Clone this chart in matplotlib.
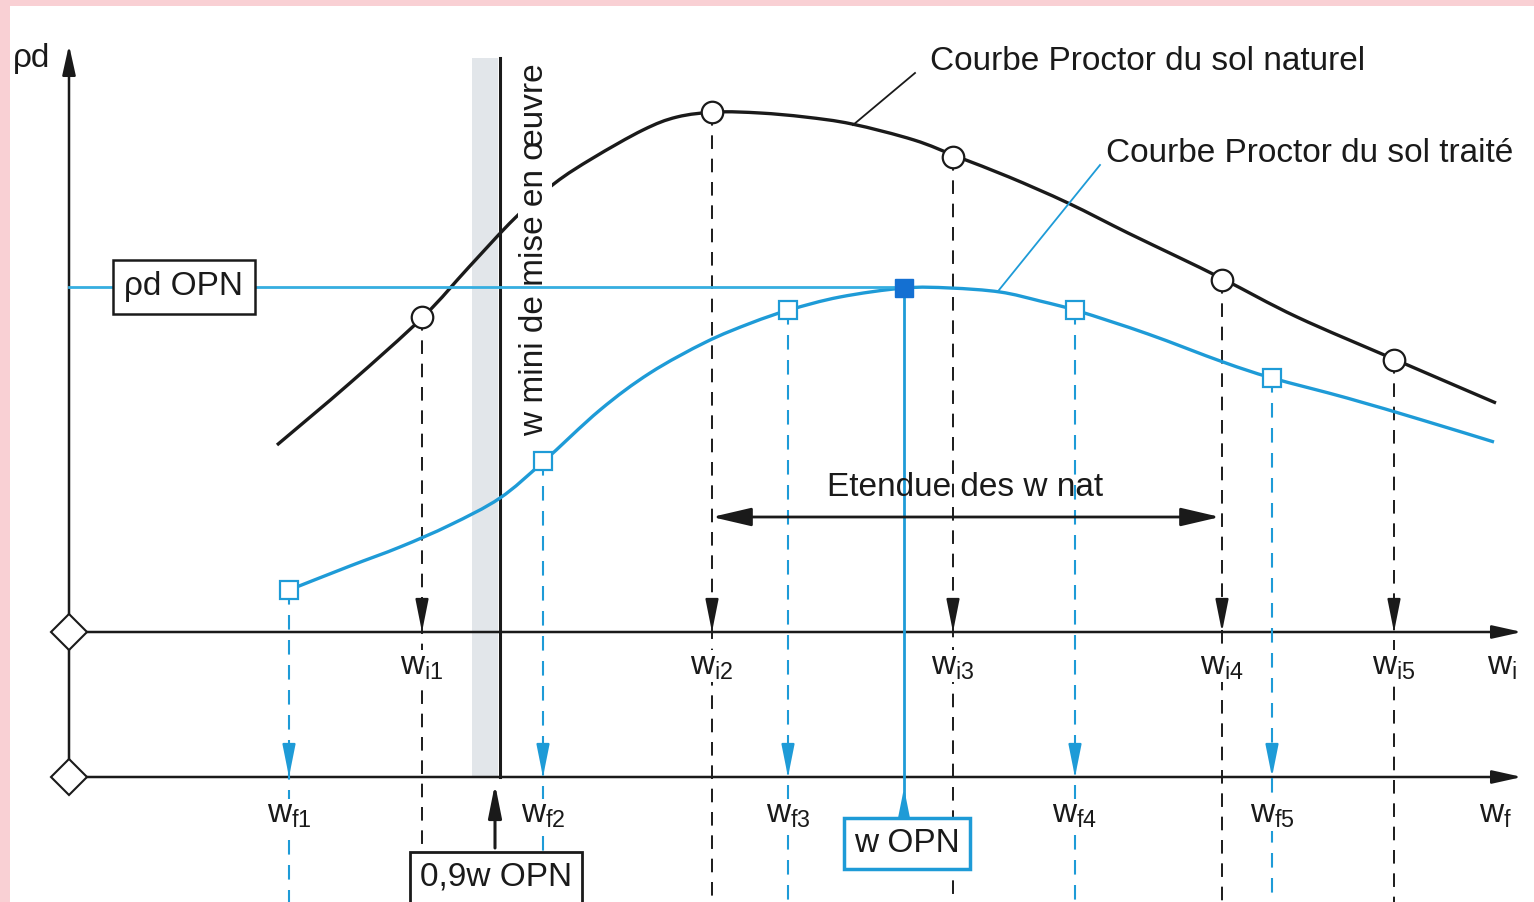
import matplotlib
matplotlib.use("Agg")
import matplotlib.pyplot as plt
from matplotlib.patches import Rectangle, PathPatch
from matplotlib.path import Path

plt.rcParams['font.family'] = ['Liberation Sans', 'DejaVu Sans']
plt.rcParams['mathtext.fontset'] = 'custom'
plt.rcParams['mathtext.rm'] = 'Liberation Sans'
plt.rcParams['mathtext.it'] = 'Liberation Sans'

# ---- data (diagram units: pixels of the 1534x902 sheet, y downward) ----
nat_x = [277, 350, 423, 469, 515, 555, 593, 643, 677, 716, 760, 805, 852, 914,
         958, 1009, 1068, 1128, 1178, 1225, 1297, 1396, 1496]
nat_y = [445, 383, 317, 267, 218, 183, 158, 130, 117, 112, 113, 117, 124, 140,
         157, 177, 203, 233, 257, 280, 317, 360, 403]

tr_x = [289, 350, 400, 450, 500, 543, 600, 650, 706, 751, 789, 840, 904, 950, 1000, 1040,
        1078, 1148, 1223, 1272, 1347, 1422, 1494]
tr_y = [590, 566, 547, 525, 498, 462, 410, 373, 342, 323, 310, 297, 288, 288, 292, 301,
        311, 334, 362, 378, 398, 420, 442]

wi_x = [422, 712, 953, 1222, 1394]
wi_rho = [317, 112, 157, 280, 360]
wi_labels = ['i1', 'i2', 'i3', 'i4', 'i5']

wf_x = [289, 543, 788, 1075, 1272]
wf_rho = [590, 461, 310, 310, 378]
wf_labels = ['f1', 'f2', 'f3', 'f4', 'f5']

w_opn = 904
rho_opn = 288
w_min = 500
w09 = 495
etendue = [712, 1220]

axis_x = 69
wi_axis_y = 632
wf_axis_y = 777
axis_top = 45
axis_right = 1522

BLACK = '#1a1a1a'
CYAN = '#1e9bd7'
BLUE = '#1470d2'


def smooth_path(xs, ys):
    """Catmull-Rom through the given points, rendered as cubic Bezier segments."""
    pts = list(zip(xs, ys))
    verts = [pts[0]]
    codes = [Path.MOVETO]
    n = len(pts)
    for i in range(n - 1):
        p0 = pts[i - 1] if i > 0 else pts[i]
        p1 = pts[i]
        p2 = pts[i + 1]
        p3 = pts[i + 2] if i + 2 < n else pts[i + 1]
        c1 = (p1[0] + (p2[0] - p0[0]) / 6.0, p1[1] + (p2[1] - p0[1]) / 6.0)
        c2 = (p2[0] - (p3[0] - p1[0]) / 6.0, p2[1] - (p3[1] - p1[1]) / 6.0)
        verts += [c1, c2, p2]
        codes += [Path.CURVE4] * 3
    return Path(verts, codes)


fig = plt.figure(figsize=(15.34, 9.02), dpi=100)
fig.patch.set_facecolor('white')
ax = fig.add_axes([0, 0, 1, 1])
ax.set_xlim(0, 1534)
ax.set_ylim(902, 0)
ax.axis('off')

# pink frame edges
ax.add_patch(Rectangle((0, 0), 1534, 6, color='#f9d0d4', zorder=0, lw=0))
ax.add_patch(Rectangle((0, 0), 10, 902, color='#f9d0d4', zorder=0, lw=0))

# gray band and w mini line
ax.add_patch(Rectangle((472, 58), w_min - 2 - 472, wf_axis_y - 58, color='#e2e6ea', lw=0, zorder=1))
ax.plot([w_min, w_min], [58, wf_axis_y], color=BLACK, lw=2.2, zorder=3)

axis_arrow = dict(arrowstyle='-|>,head_length=0.9,head_width=0.2', color=BLACK, lw=1.8,
                  mutation_scale=20, shrinkA=0, shrinkB=0)
# axes
ax.annotate('', xy=(axis_x, axis_top), xytext=(axis_x, wf_axis_y), arrowprops=axis_arrow, zorder=3)
for yy in (wi_axis_y, wf_axis_y):
    ax.annotate('', xy=(axis_right, yy), xytext=(axis_x, yy), arrowprops=axis_arrow, zorder=3)
    ax.plot([axis_x], [yy], marker='D', ms=18, mfc='white', mec=BLACK, mew=1.5, zorder=6)

# rho_d OPN horizontal
ax.plot([axis_x, w_opn], [rho_opn - 1, rho_opn - 1], color='#36aee0', lw=2.0, zorder=5)

# natural curve
ax.add_patch(PathPatch(smooth_path(nat_x, nat_y), fc='none', ec=BLACK, lw=2.4, zorder=2,
                       capstyle='butt', joinstyle='round'))
# treated curve
ax.add_patch(PathPatch(smooth_path(tr_x, tr_y), fc='none', ec=CYAN, lw=2.4, zorder=4,
                       capstyle='butt', joinstyle='round'))

arrow_kw = dict(arrowstyle='-|>,head_length=1.0,head_width=0.2', mutation_scale=20,
                shrinkA=0, shrinkB=0, lw=1.5)

# black dashed projections
for x, r, lab in zip(wi_x, wi_rho, wi_labels):
    bottom = 847 if x < w_min else 902
    ax.plot([x, x], [r, bottom], color=BLACK, lw=1.4, ls=(0, (7, 5)), zorder=3)
    ax.annotate('', xy=(x, wi_axis_y), xytext=(x, wi_axis_y - 30),
                arrowprops=dict(color=BLACK, **arrow_kw), zorder=4)
    ax.text(x, wi_axis_y + 34, r'$\mathrm{w_{%s}}$' % lab, fontsize=24, ha='center', va='center',
            color=BLACK, zorder=7, bbox=dict(fc='white', ec='none', pad=0.5))
ax.plot(wi_x, wi_rho, ls='none', marker='o', ms=15.5, mfc='white', mec=BLACK, mew=1.6, zorder=6)
ax.text(1502, wi_axis_y + 34, r'$\mathrm{w_{i}}$', fontsize=24, ha='center', va='center', color=BLACK)

# blue dashed projections
for x, r, lab in zip(wf_x, wf_rho, wf_labels):
    ax.plot([x, x], [r, 902], color=CYAN, lw=1.5, ls=(0, (7, 5)), zorder=3)
    ax.annotate('', xy=(x, wf_axis_y), xytext=(x, wf_axis_y - 30),
                arrowprops=dict(color=CYAN, **arrow_kw), zorder=4)
    ax.text(x, wf_axis_y + 38, r'$\mathrm{w_{%s}}$' % lab, fontsize=24, ha='center', va='center',
            color=BLACK, zorder=7, bbox=dict(fc='white', ec='none', pad=0.5))
ax.plot(wf_x, wf_rho, ls='none', marker='s', ms=13, mfc='white', mec=CYAN, mew=1.6, zorder=6)
ax.text(1496, wf_axis_y + 38, r'$\mathrm{w_{f}}$', fontsize=24, ha='center', va='center', color=BLACK)

# w OPN
ax.plot([w_opn, w_opn], [rho_opn, 818], color=CYAN, lw=2.0, zorder=5)
ax.annotate('', xy=(w_opn, 788), xytext=(w_opn, 818),
            arrowprops=dict(color=CYAN, **arrow_kw), zorder=5)
ax.plot([w_opn], [rho_opn], ls='none', marker='s', ms=13, mfc=BLUE, mec=BLUE, zorder=7)
ax.text(w_opn + 3, 843, 'w OPN', fontsize=24, ha='center', va='center', color=BLACK, zorder=8,
        bbox=dict(boxstyle='square,pad=0.3', fc='white', ec=CYAN, lw=2.5))

# 0,9 w OPN
ax.annotate('', xy=(w09, 784), xytext=(w09, 848),
            arrowprops=dict(color=BLACK, **dict(arrow_kw, lw=2.2)), zorder=5)
ax.text(w09 + 1, 877, '0,9w OPN', fontsize=24, ha='center', va='center', color=BLACK, zorder=8,
        bbox=dict(boxstyle='square,pad=0.3', fc='white', ec=BLACK, lw=2.0))

# rho_d OPN box
ax.text(184, 287, 'ρd OPN', fontsize=24, ha='center', va='center', color=BLACK, zorder=8,
        bbox=dict(boxstyle='square,pad=0.35', fc='white', ec=BLACK, lw=1.8))
ax.text(32, 58, 'ρd', fontsize=24, ha='center', va='center', color=BLACK)

# vertical label
ax.text(535, 250, 'w mini de mise en œuvre', fontsize=24, rotation=90, ha='center', va='center',
        color=BLACK, zorder=4, bbox=dict(fc='white', ec='none', pad=1))

# Etendue
ax.annotate('', xy=(etendue[0], 517), xytext=(etendue[1], 517),
            arrowprops=dict(arrowstyle='<|-|>,head_length=1.2,head_width=0.28', mutation_scale=20,
                            color=BLACK, lw=2.0, shrinkA=0, shrinkB=0), zorder=5)
ax.text(965, 488, 'Etendue des w nat', fontsize=24, ha='center', va='center', color=BLACK, zorder=8)

# curve labels with leader lines
ax.plot([853, 915], [125, 73], color=BLACK, lw=1.3, zorder=3)
ax.text(930, 62, 'Courbe Proctor du sol naturel', fontsize=24, ha='left', va='center', color=BLACK)
ax.plot([999, 1100], [290, 165], color=CYAN, lw=1.3, zorder=3)
ax.text(1106, 153, 'Courbe Proctor du sol traité', fontsize=24, ha='left', va='center', color=BLACK)

fig.savefig('out.png', dpi=100, facecolor='white')
